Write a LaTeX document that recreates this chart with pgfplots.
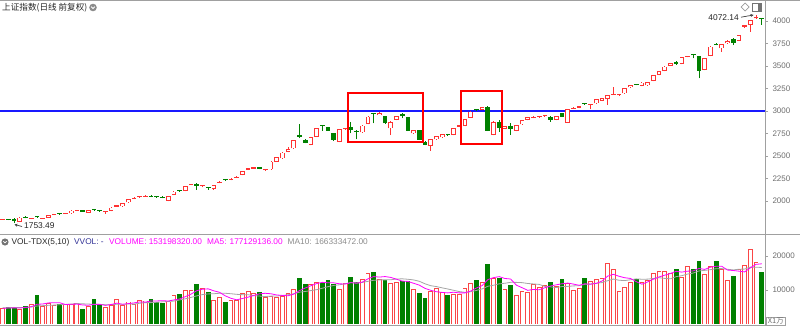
\documentclass[border=0pt]{standalone}
\usepackage{pgfplots}
\pgfplotsset{compat=1.18}
\usepackage{pgfplotstable}
\usetikzlibrary{arrows.meta}
\usepackage{fontspec}
\setmainfont{Liberation Sans}
\newfontfamily\cjk{Noto Sans CJK SC}
\definecolor{kred}{RGB}{255,50,50}
\definecolor{vred}{RGB}{250,70,70}
\definecolor{kgreen}{RGB}{0,128,0}
\definecolor{axgray}{RGB}{160,160,160}
\definecolor{tkgray}{RGB}{110,110,110}
\definecolor{mag}{RGB}{255,0,255}
\definecolor{maten}{RGB}{165,165,165}
\definecolor{navy}{RGB}{50,50,150}
\definecolor{bline}{RGB}{25,25,255}

\pgfplotstableread{
i O H L C V
0 1794 1800 1790 1798 4600
1 1798 1805 1788 1794 4900
2 1804 1808 1753.49 1775 4900
3 1768 1818 1765 1815 4500
4 1820 1830 1808 1816 5300
5 1801 1810 1798 1806 5800
6 1833 1836 1815 1819 8500
7 1805 1813 1800 1810 5300
8 1815 1843 1812 1840 6100
9 1846 1858 1843 1855 5600
10 1858 1865 1848 1855 5800
11 1858 1869 1855 1866 5800
12 1862 1896 1860 1893 5800
13 1893 1898 1888 1893 6300
14 1895 1898 1879 1882 4300
15 1872 1903 1869 1900 5300
16 1902 1912 1892 1898 7300
17 1891 1900 1880 1887 5600
18 1880 1892 1856 1888 4900
19 1889 1930 1886 1926 5600
20 1938 1955 1935 1950 7300
21 1940 1977 1936 1974 5600
22 1985 2025 1982 2022 6600
23 2020 2040 2017 2035 5900
24 2040 2058 2036 2054 7100
25 2049 2062 2046 2058 6900
26 2054 2062 2044 2050 7400
27 2046 2052 2034 2043 6600
28 2043 2050 2030 2039 6300
29 2000 2055 1996 2052 6600
30 2067 2108 2064 2104 8500
31 2113 2118 2104 2109 8800
32 2111 2170 2108 2167 10000
33 2179 2192 2176 2188 10000
34 2190 2196 2125 2168 11700
35 2165 2172 2150 2170 10700
36 2152 2160 2125 2146 9300
37 2130 2177 2126 2174 7100
38 2200 2218 2197 2214 7800
39 2235 2245 2222 2231 6500
40 2234 2250 2230 2247 7100
41 2256 2273 2253 2270 7100
42 2289 2336 2286 2333 9000
43 2345 2366 2342 2362 9800
44 2360 2377 2357 2373 9000
45 2374 2377 2350 2353 9500
46 2342 2348 2335 2346 7850
47 2352 2440 2348 2437 8330
48 2437 2489 2434 2485 8030
49 2474 2541 2471 2537 8330
50 2544 2600 2541 2574 9020
51 2585 2682 2582 2678 10200
52 2735 2855 2696 2715 13600
53 2678 2685 2640 2648 11760
54 2622 2711 2618 2707 11660
55 2715 2811 2711 2807 12250
56 2838 2840 2781 2834 11960
57 2818 2822 2778 2782 13030
58 2752 2756 2670 2680 11660
59 2655 2800 2651 2796 10200
60 2800 2810 2790 2808 11960
61 2826 2880 2752 2790 13920
62 2772 2785 2685 2768 12250
63 2763 2841 2760 2837 13230
64 2855 2941 2852 2937 15090
65 2969 2972 2863 2965 15290
66 2955 2985 2950 2981 13130
67 2944 2948 2858 2863 13030
68 2807 2885 2733 2881 11960
69 2900 2948 2896 2944 12450
70 2963 2981 2918 2940 12540
71 2930 2935 2775 2782 12640
72 2752 2793 2748 2789 10290
73 2789 2793 2675 2680 9210
74 2659 2665 2618 2625 7740
75 2611 2689 2560 2685 9700
76 2685 2726 2680 2722 10490
77 2707 2748 2703 2744 9310
78 2736 2745 2720 2731 8530
79 2733 2811 2728 2807 8720
80 2826 2845 2822 2840 8720
81 2833 2911 2830 2907 10490
82 2926 2997 2922 2993 11960
83 3013 3025 2998 3009 13030
84 3011 3044 3008 3040 12250
85 3048 3052 2775 2780 17540
86 2733 2885 2728 2881 13430
87 2874 2900 2770 2808 13430
88 2800 2837 2796 2833 10290
89 2837 2863 2735 2800 11470
90 2778 2848 2774 2844 8530
91 2852 2904 2848 2900 9700
92 2900 2934 2896 2930 9500
93 2922 2941 2918 2937 11660
94 2938 2948 2925 2946 10980
95 2950 2959 2935 2957 11470
96 2937 2941 2881 2900 12250
97 2900 2948 2896 2944 11270
98 2974 2978 2933 2938 13230
99 2870 3022 2866 3018 11960
100 3024 3045 3020 3031 10000
101 3038 3055 3030 3050 10490
102 3080 3090 3068 3076 13430
103 3070 3080 3018 3077 12640
104 3085 3134 3081 3130 13130
105 3115 3145 3111 3141 13430
106 3130 3182 3067 3178 17800
107 3182 3263 3178 3190 16100
108 3174 3185 3170 3180 9700
109 3196 3256 3192 3252 11000
110 3263 3293 3259 3289 12400
111 3298 3305 3285 3294 13100
112 3278 3319 3274 3315 12400
113 3285 3322 3281 3318 12900
114 3333 3400 3329 3396 15100
115 3400 3448 3396 3444 15700
116 3444 3497 3440 3493 15700
117 3504 3534 3500 3530 14900
118 3544 3550 3515 3524 16100
119 3522 3600 3518 3596 13900
120 3605 3614 3595 3612 17100
121 3624 3626 3585 3620 16100
122 3611 3615 3363 3448 18500
123 3455 3589 3451 3585 14700
124 3611 3719 3607 3715 17100
125 3744 3755 3728 3739 18500
126 3696 3748 3659 3744 16100
127 3752 3785 3748 3781 12900
128 3796 3815 3733 3760 14100
129 3781 3848 3777 3844 16100
130 3937 3960 3925 3952 17400
131 3956 4015 3881 4011 22000
132 4030 4072.14 4025 4048 18100
133 4024 4028 3956 4020 15320
}\kdata

\pgfplotsset{
  kbase/.style={
    scale only axis, width=765pt,
    xmin=-0.473, xmax=133.57,
    axis line style={draw=none},
    xtick=\empty,
    ytick pos=right, yticklabel pos=right,
    tick align=outside, major tick length=3pt,
    every tick/.style={axgray, line width=0.6pt},
    yticklabel style={font=\fontsize{8}{9}\selectfont, text=tkgray, xshift=1pt},
    scaled y ticks=false,
    /pgf/number format/1000 sep={},
    /pgf/number format/assume math mode=true,
  },
  upsel/.style={restrict expr to domain={\thisrow{C}-\thisrow{O}}{0:100000}},
  dnsel/.style={restrict expr to domain={\thisrow{C}-\thisrow{O}}{-100000:-0.001}},
  candle/.style={draw=none, mark=none, error bars/.cd, y dir=plus, y explicit, error mark=none},
}

\begin{document}
\begin{tikzpicture}[x=1pt,y=1pt]
\path[use as bounding box] (0pt,0pt) rectangle (800pt,-326pt);

% ---------- price panel ----------
\begin{axis}[kbase, at={(0pt,0pt)}, anchor=north west, height=234pt,
  ymin=1633.3, ymax=4233.3, ytick={2000,2250,...,4000}]
\addplot[bline, line width=2.2pt] coordinates {(-0.473,3000) (133.57,3000)};
% wicks
\addplot[upsel, candle, error bar style={draw=kred, line width=0.85pt}]
  table[x=i, y=L, y error plus expr={\thisrow{H}-\thisrow{L}}] {\kdata};
\addplot[dnsel, candle, error bar style={draw=kgreen, line width=0.85pt}]
  table[x=i, y=L, y error plus expr={\thisrow{H}-\thisrow{L}}] {\kdata};
% rising bodies (hollow red)
\addplot[upsel, candle, error bar style={draw=kred, line width=4.7pt}]
  table[x=i, y=O, y error plus expr={max(\thisrow{C}-\thisrow{O},10)}] {\kdata};
\addplot[restrict expr to domain={\thisrow{C}-\thisrow{O}}{20:100000}, candle,
  error bar style={draw=white, line width=2.9pt}]
  table[x=i, y expr={\thisrow{O}+9}, y error plus expr={\thisrow{C}-\thisrow{O}-18}] {\kdata};
% falling bodies (filled green)
\addplot[dnsel, candle, error bar style={draw=kgreen, line width=4.7pt}]
  table[x=i, y=C, y error plus expr={max(\thisrow{O}-\thisrow{C},10)}] {\kdata};
\draw[red, line width=2pt] (axis cs:60.56,2659) rectangle (axis cs:73.6,3203);
\draw[red, line width=2pt] (axis cs:80.25,2630) rectangle (axis cs:87.55,3222);
\end{axis}

% ---------- volume panel ----------
\begin{axis}[kbase, at={(0pt,-234pt)}, anchor=north west, height=90pt,
  ymin=0, ymax=26470, ytick={10000,20000}]
% rising volume (hollow red)
\addplot[upsel, candle, error bar style={draw=vred, line width=4.8pt}]
  table[x=i, y expr={0}, y error plus=V] {\kdata};
\addplot[upsel, candle, error bar style={draw=white, line width=3.0pt}]
  table[x=i, y expr={0}, y error plus expr={\thisrow{V}-270}] {\kdata};
% falling volume (filled green)
\addplot[dnsel, candle, error bar style={draw=kgreen, line width=4.8pt}]
  table[x=i, y expr={0}, y error plus=V] {\kdata};
\addplot[maten, line width=0.8pt] coordinates {(0,4800)(1,4800)(2,4850)(3,4850)(4,4900)(5,5000)(6,5300)(7,5400)(8,5500)(9,5550)(10,5670)(11,5760)(12,5850)(13,6030)(14,5930)(15,5880)(16,5760)(17,5790)(18,5670)(19,5670)(20,5820)(21,5800)(22,5880)(23,5840)(24,6120)(25,6280)(26,6290)(27,6390)(28,6530)(29,6630)(30,6750)(31,7070)(32,7410)(33,7820)(34,8280)(35,8660)(36,8850)(37,8900)(38,9050)(39,9040)(40,8900)(41,8730)(42,8630)(43,8610)(44,8340)(45,8220)(46,8075)(47,8198)(48,8221)(49,8404)(50,8596)(51,8906)(52,9366)(53,9562)(54,9828)(55,10103)(56,10514)(57,10984)(58,11347)(59,11534)(60,11828)(61,12200)(62,12065)(63,12212)(64,12555)(65,12859)(66,12976)(67,12976)(68,13006)(69,13231)(70,13289)(71,13161)(72,12965)(73,12563)(74,11828)(75,11269)(76,11005)(77,10633)(78,10290)(79,9917)(80,9535)(81,9320)(82,9487)(83,9869)(84,10320)(85,11104)(86,11398)(87,11810)(88,11986)(89,12261)(90,12242)(91,12163)(92,11917)(93,11780)(94,11653)(95,11046)(96,10928)(97,10712)(98,11006)(99,11055)(100,11202)(101,11281)(102,11674)(103,11772)(104,11987)(105,12183)(106,12738)(107,13221)(108,12868)(109,12772)(110,13012)(111,13273)(112,13170)(113,13196)(114,13393)(115,13620)(116,13410)(117,13290)(118,13930)(119,14220)(120,14690)(121,14990)(122,15600)(123,15780)(124,15980)(125,16260)(126,16300)(127,16100)(128,15900)(129,16120)(130,16150)(131,16740)(132,16700)(133,16633)};
\addplot[mag, line width=0.8pt] coordinates {(0,4600)(1,4700)(2,4750)(3,4700)(4,4840)(5,5080)(6,5800)(7,5880)(8,6200)(9,6260)(10,6260)(11,5720)(12,5820)(13,5860)(14,5600)(15,5500)(16,5800)(17,5760)(18,5480)(19,5740)(20,6140)(21,5800)(22,6000)(23,6200)(24,6500)(25,6420)(26,6780)(27,6780)(28,6860)(29,6760)(30,7080)(31,7360)(32,8040)(33,8780)(34,9800)(35,10240)(36,10340)(37,9760)(38,9320)(39,8280)(40,7560)(41,7120)(42,7500)(43,7900)(44,8400)(45,8880)(46,9030)(47,8896)(48,8542)(49,8408)(50,8312)(51,8782)(52,9836)(53,10582)(54,11248)(55,11894)(56,12246)(57,12132)(58,12112)(59,11820)(60,11762)(61,12154)(62,11998)(63,12312)(64,13290)(65,13956)(66,13798)(67,13954)(68,13700)(69,13172)(70,12622)(71,12524)(72,11976)(73,11426)(74,10484)(75,9916)(76,9486)(77,9290)(78,9154)(79,9350)(80,9154)(81,9154)(82,9684)(83,10584)(84,11290)(85,13054)(86,13642)(87,13936)(88,13388)(89,13232)(90,11430)(91,10684)(92,9898)(93,10172)(94,10074)(95,10662)(96,11172)(97,11526)(98,11840)(99,12036)(100,11742)(101,11390)(102,11822)(103,11704)(104,11938)(105,12624)(106,14086)(107,14620)(108,14032)(109,13606)(110,13400)(111,12460)(112,11720)(113,12360)(114,13180)(115,13840)(116,14360)(117,14860)(118,15500)(119,15260)(120,15540)(121,15620)(122,16340)(123,16060)(124,16700)(125,16980)(126,16980)(127,15860)(128,15740)(129,15540)(130,15320)(131,16500)(132,17540)(133,17713)};
\end{axis}

% ---------- frame lines ----------
\draw[axgray, line width=1.2pt] (0,-0.6) -- (800,-0.6);
\draw[axgray, line width=1pt] (765,0) -- (765,-326);
\draw[axgray, line width=1pt] (0,-234) -- (800,-234);
\draw[axgray, line width=1.2pt] (0,-325.2) -- (765,-325.2);

% ---------- texts ----------
\node[anchor=west, inner sep=0, text=black!85, font=\cjk\fontsize{8.6}{10}\selectfont] at (2,-7.5) {上证指数(日线 前复权)};
\fill[black!45] (93,-7.5) circle (3.8);
\draw[white, line width=0.8pt] (91.2,-6.6) -- (93,-8.6) -- (94.8,-6.6);

\draw[gray!80, line width=0.7pt] (745,-3) -- (749,-7) -- (745,-11) -- (741,-7) -- cycle;
\draw[gray!90!black, line width=0.7pt] (752,-3) rectangle (761,-11);
\fill[gray!90!black] (757.5,-3) rectangle (761,-11);

\node[anchor=east, inner sep=0, text=black!85, font=\fontsize{8.4}{10}\selectfont] at (739,-18) {4072.14};
\draw[black!75, line width=0.7pt, -{Stealth[length=3pt,width=3pt]}] (741,-17.2) -- (753.5,-15);

\node[anchor=west, inner sep=0, text=black!85, font=\fontsize{8.4}{10}\selectfont] at (24,-225.5) {1753.49};
\draw[black!75, line width=0.7pt, -{Stealth[length=3pt,width=3pt]}] (22,-226.5) -- (14.5,-224.5);

\fill[black!55] (5,-242) circle (3.6);
\draw[white, line width=0.7pt] (3.4,-241.2) -- (5,-242.9) -- (6.6,-241.2);
\node[anchor=west, inner sep=0, text=black!85, font=\fontsize{8.3}{10}\selectfont] at (11.5,-242) {VOL-TDX(5,10)};
\node[anchor=west, inner sep=0, text=navy, font=\fontsize{8.3}{10}\selectfont] at (74,-242) {VVOL: -};
\node[anchor=west, inner sep=0, text=mag, font=\fontsize{8.3}{10}\selectfont] at (109,-242) {VOLUME: 153198320.00};
\node[anchor=west, inner sep=0, text=mag, font=\fontsize{8.3}{10}\selectfont] at (207,-242) {MA5: 177129136.00};
\node[anchor=west, inner sep=0, text=tkgray!80, font=\fontsize{8.3}{10}\selectfont] at (287.5,-242) {MA10: 166333472.00};

\node[anchor=south west, draw=axgray, line width=0.6pt, inner xsep=1.5pt, inner ysep=1pt, text=tkgray, font=\cjk\fontsize{7.5}{8}\selectfont] at (766,-325.5) {X1万};
\end{tikzpicture}
\end{document}
